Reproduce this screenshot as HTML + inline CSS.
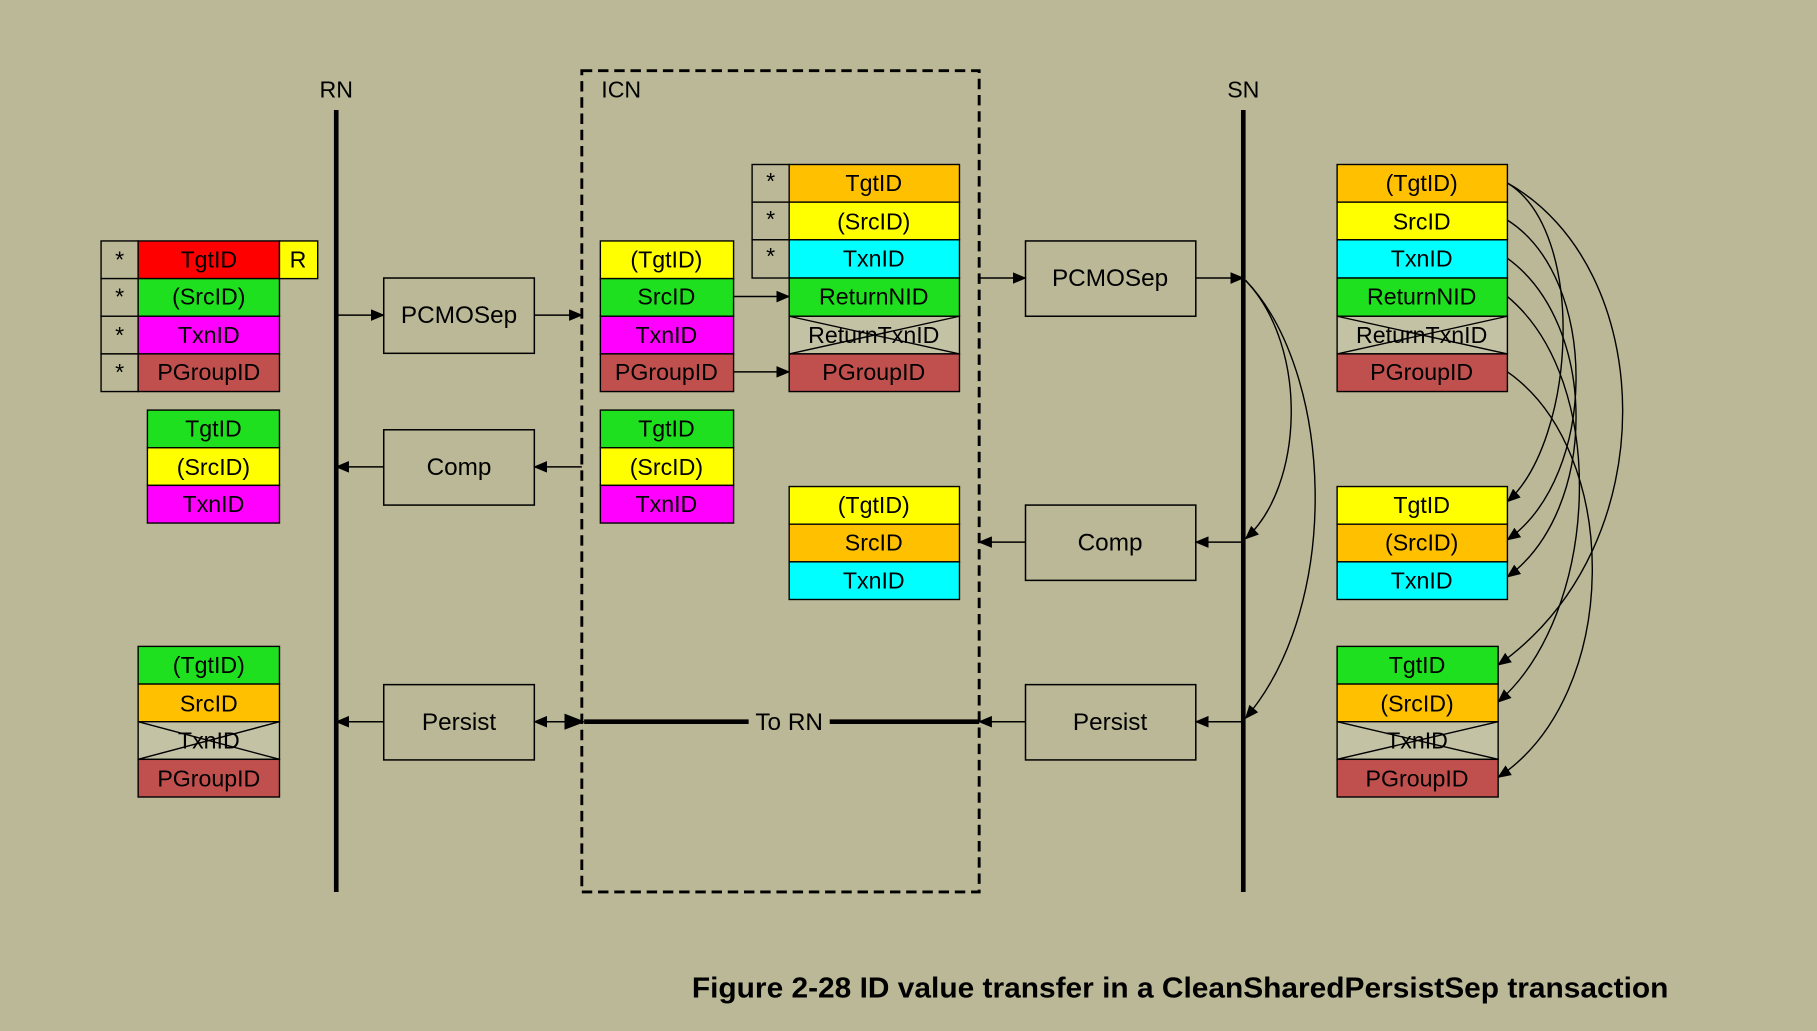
<!DOCTYPE html>
<html><head><meta charset="utf-8"><style>html,body{margin:0;padding:0;background:#bab896}svg{display:block}</style></head><body>
<svg width="1817" height="1031" viewBox="0 0 1568 890" xmlns="http://www.w3.org/2000/svg" font-family="Liberation Sans, sans-serif">
<defs>
<marker id="a" markerWidth="12" markerHeight="10" refX="11" refY="5" orient="auto" markerUnits="userSpaceOnUse"><path d="M0,0 L12,5 L0,10 z" fill="#000"/></marker>
<marker id="b" markerWidth="18" markerHeight="14" refX="1" refY="7" orient="auto" markerUnits="userSpaceOnUse"><path d="M18,0 L0,7 L18,14 z" fill="#000"/></marker>
</defs>
<rect width="1568" height="890" fill="#bab896"/>
<g font-size="20" text-anchor="middle">
<text x="290" y="84">RN</text><text x="536" y="84">ICN</text><text x="1073" y="84">SN</text>
</g>
<line x1="290" y1="95" x2="290" y2="770" stroke="#000" stroke-width="4"/>
<line x1="1073" y1="95" x2="1073" y2="770" stroke="#000" stroke-width="4"/>
<rect x="502" y="61" width="343" height="709" fill="none" stroke="#000" stroke-width="2.5" stroke-dasharray="9,5"/>
<g stroke="#000" stroke-width="1.3" fill="none">
<rect x="331" y="240" width="130" height="65"/><rect x="331" y="371" width="130" height="65"/><rect x="331" y="591" width="130" height="65"/>
<rect x="885" y="208" width="147" height="65"/><rect x="885" y="436" width="147" height="65"/><rect x="885" y="591" width="147" height="65"/>
</g>
<g font-size="21" text-anchor="middle">
<text x="396" y="279">PCMOSep</text><text x="396" y="410">Comp</text><text x="396" y="630">Persist</text>
<text x="958" y="247">PCMOSep</text><text x="958" y="475">Comp</text><text x="958" y="630">Persist</text>
</g>
<g stroke="#000" stroke-width="1.3" marker-end="url(#a)">
<line x1="290" y1="272" x2="331" y2="272"/><line x1="461" y1="272" x2="502" y2="272"/>
<line x1="502" y1="403" x2="461" y2="403"/><line x1="331" y1="403" x2="290" y2="403"/>
<line x1="502" y1="623" x2="461" y2="623"/><line x1="331" y1="623" x2="290" y2="623"/>
<line x1="633" y1="256" x2="681" y2="256"/><line x1="633" y1="321" x2="681" y2="321"/>
<line x1="845" y1="240" x2="885" y2="240"/><line x1="1032" y1="240" x2="1073" y2="240"/>
<line x1="1073" y1="468" x2="1032" y2="468"/><line x1="885" y1="468" x2="845" y2="468"/>
<line x1="1073" y1="623" x2="1032" y2="623"/><line x1="885" y1="623" x2="845" y2="623"/>
</g>
<line x1="845" y1="623" x2="716" y2="623" stroke="#000" stroke-width="4"/>
<line x1="646" y1="623" x2="504" y2="623" stroke="#000" stroke-width="4" marker-end="url(#b)"/>
<text x="681" y="630" font-size="21" text-anchor="middle">To RN</text>
<g stroke="#000" stroke-width="1.2" fill="none" marker-end="url(#a)">
<path d="M1075,242 C1130,300 1125,420 1075,465"/>
<path d="M1075,242 C1150,320 1160,520 1075,620"/>
<path d="M1301,158 C1370,200 1360,380 1301,433"/>
<path d="M1301,190 C1380,240 1380,410 1301,466"/>
<path d="M1301,223 C1380,280 1380,440 1301,498"/>
<path d="M1301,158 C1430,230 1440,470 1293,574"/>
<path d="M1301,256 C1390,330 1380,530 1293,606"/>
<path d="M1301,321 C1400,390 1400,600 1293,671"/>
</g>
<g font-size="20" text-anchor="middle" stroke="#000" stroke-width="1.2">
<rect x="87" y="208" width="32" height="32.5" fill="#bab896"/><rect x="87" y="240.5" width="32" height="32.5" fill="#bab896"/><rect x="87" y="273" width="32" height="32.5" fill="#bab896"/><rect x="87" y="305.5" width="32" height="32.5" fill="#bab896"/>
<rect x="119" y="208" width="122" height="32.5" fill="#ff0000"/><rect x="119" y="240.5" width="122" height="32.5" fill="#1ee01e"/><rect x="119" y="273" width="122" height="32.5" fill="#ff00ff"/><rect x="119" y="305.5" width="122" height="32.5" fill="#c0504d"/>
<rect x="241" y="208" width="33" height="32.5" fill="#ffff00"/>
<rect x="127" y="354" width="114" height="32.5" fill="#1ee01e"/><rect x="127" y="386.5" width="114" height="32.5" fill="#ffff00"/><rect x="127" y="419" width="114" height="32.5" fill="#ff00ff"/>
<rect x="119" y="558" width="122" height="32.5" fill="#1ee01e"/><rect x="119" y="590.5" width="122" height="32.5" fill="#ffc000"/><rect x="119" y="623" width="122" height="32.5" fill="#c4c2a4"/><rect x="119" y="655.5" width="122" height="32.5" fill="#c0504d"/>
<path d="M119,623 L241,655.5 M241,623 L119,655.5" fill="none"/>
<rect x="518" y="208" width="115" height="32.5" fill="#ffff00"/><rect x="518" y="240.5" width="115" height="32.5" fill="#1ee01e"/><rect x="518" y="273" width="115" height="32.5" fill="#ff00ff"/><rect x="518" y="305.5" width="115" height="32.5" fill="#c0504d"/>
<rect x="518" y="354" width="115" height="32.5" fill="#1ee01e"/><rect x="518" y="386.5" width="115" height="32.5" fill="#ffff00"/><rect x="518" y="419" width="115" height="32.5" fill="#ff00ff"/>
<rect x="649" y="142" width="32" height="32.5" fill="#bab896"/><rect x="649" y="174.5" width="32" height="32.5" fill="#bab896"/><rect x="649" y="207" width="32" height="33" fill="#bab896"/>
<rect x="681" y="142" width="147" height="32.5" fill="#ffc000"/><rect x="681" y="174.5" width="147" height="32.5" fill="#ffff00"/><rect x="681" y="207" width="147" height="33" fill="#00ffff"/><rect x="681" y="240" width="147" height="33" fill="#1ee01e"/><rect x="681" y="273" width="147" height="32.5" fill="#c4c2a4"/><rect x="681" y="305.5" width="147" height="32.5" fill="#c0504d"/>
<path d="M681,273 L828,305.5 M828,273 L681,305.5" fill="none"/>
<rect x="681" y="420" width="147" height="32.5" fill="#ffff00"/><rect x="681" y="452.5" width="147" height="32.5" fill="#ffc000"/><rect x="681" y="485" width="147" height="32.5" fill="#00ffff"/>
<rect x="1154" y="142" width="147" height="32.5" fill="#ffc000"/><rect x="1154" y="174.5" width="147" height="32.5" fill="#ffff00"/><rect x="1154" y="207" width="147" height="33" fill="#00ffff"/><rect x="1154" y="240" width="147" height="33" fill="#1ee01e"/><rect x="1154" y="273" width="147" height="32.5" fill="#c4c2a4"/><rect x="1154" y="305.5" width="147" height="32.5" fill="#c0504d"/>
<path d="M1154,273 L1301,305.5 M1301,273 L1154,305.5" fill="none"/>
<rect x="1154" y="420" width="147" height="32.5" fill="#ffff00"/><rect x="1154" y="452.5" width="147" height="32.5" fill="#ffc000"/><rect x="1154" y="485" width="147" height="32.5" fill="#00ffff"/>
<rect x="1154" y="558" width="139" height="32.5" fill="#1ee01e"/><rect x="1154" y="590.5" width="139" height="32.5" fill="#ffc000"/><rect x="1154" y="623" width="139" height="32.5" fill="#c4c2a4"/><rect x="1154" y="655.5" width="139" height="32.5" fill="#c0504d"/>
<path d="M1154,623 L1293,655.5 M1293,623 L1154,655.5" fill="none"/>
</g>
<g font-size="20" text-anchor="middle">
<text x="103" y="231">*</text><text x="103" y="263">*</text><text x="103" y="296">*</text><text x="103" y="328">*</text>
<text x="180" y="231">TgtID</text><text x="180" y="263">(SrcID)</text><text x="180" y="296">TxnID</text><text x="180" y="328">PGroupID</text><text x="257" y="231">R</text>
<text x="184" y="377">TgtID</text><text x="184" y="410">(SrcID)</text><text x="184" y="442">TxnID</text>
<text x="180" y="581">(TgtID)</text><text x="180" y="614">SrcID</text><text x="180" y="646">TxnID</text><text x="180" y="679">PGroupID</text>
<text x="575" y="231">(TgtID)</text><text x="575" y="263">SrcID</text><text x="575" y="296">TxnID</text><text x="575" y="328">PGroupID</text>
<text x="575" y="377">TgtID</text><text x="575" y="410">(SrcID)</text><text x="575" y="442">TxnID</text>
<text x="665" y="163">*</text><text x="665" y="196">*</text><text x="665" y="228">*</text>
<text x="754" y="165">TgtID</text><text x="754" y="198">(SrcID)</text><text x="754" y="230">TxnID</text><text x="754" y="263">ReturnNID</text><text x="754" y="296">ReturnTxnID</text><text x="754" y="328">PGroupID</text>
<text x="754" y="443">(TgtID)</text><text x="754" y="475">SrcID</text><text x="754" y="508">TxnID</text>
<text x="1227" y="165">(TgtID)</text><text x="1227" y="198">SrcID</text><text x="1227" y="230">TxnID</text><text x="1227" y="263">ReturnNID</text><text x="1227" y="296">ReturnTxnID</text><text x="1227" y="328">PGroupID</text>
<text x="1227" y="443">TgtID</text><text x="1227" y="475">(SrcID)</text><text x="1227" y="508">TxnID</text>
<text x="1223" y="581">TgtID</text><text x="1223" y="614">(SrcID)</text><text x="1223" y="646">TxnID</text><text x="1223" y="679">PGroupID</text>
</g>
<text x="597" y="861" font-size="25" font-weight="bold" textLength="843" lengthAdjust="spacingAndGlyphs">Figure 2-28 ID value transfer in a CleanSharedPersistSep transaction</text>
</svg>
</body></html>
